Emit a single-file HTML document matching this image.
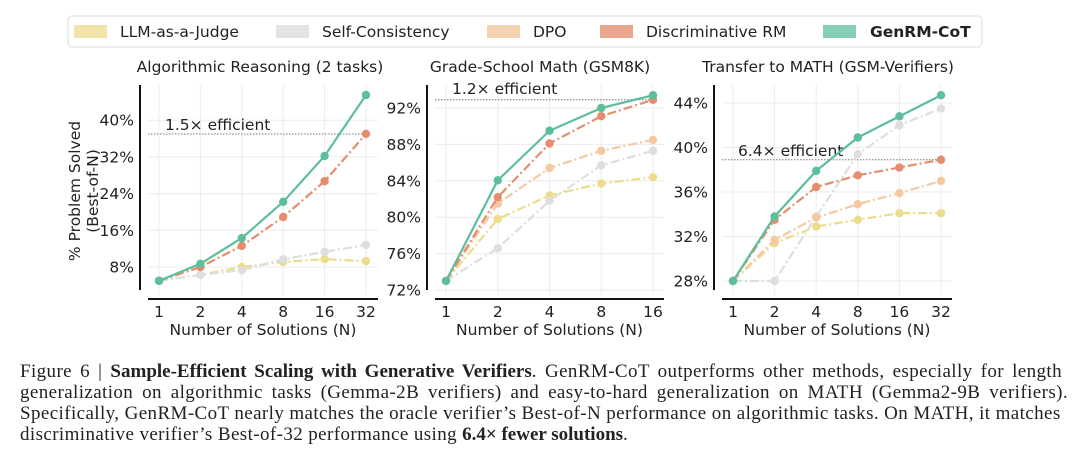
<!DOCTYPE html>
<html><head><meta charset="utf-8"><style>
body{margin:0;background:#fff;width:1080px;height:460px;overflow:hidden}
svg text{font-family:"DejaVu Sans","Liberation Sans",sans-serif;fill:#222}
.cap{position:absolute;left:20px;top:361px;width:1060px;font-family:"Liberation Serif",serif;font-size:19px;letter-spacing:0.4px;line-height:21px;color:#222;margin:0}
.cap div{white-space:nowrap;overflow:hidden}
.cap .j{text-align:justify;text-align-last:justify}
.cap b{letter-spacing:0px}
</style></head><body>
<svg id="chart" width="1080" height="350" style="position:absolute;left:0;top:0">
<g id="legend">
<rect x="68" y="16" width="914" height="31" rx="4" fill="#fff" stroke="#ddd"/>
</g>
<g id="plots"></g>
</svg>
<div class="cap">
<div class="j" style="width:1042px">Figure 6 | <b>Sample-Efficient Scaling with Generative Verifiers</b>. GenRM-CoT outperforms other methods, especially for length</div>
<div class="j" style="width:1048px">generalization on algorithmic tasks (Gemma-2B verifiers) and easy-to-hard generalization on MATH (Gemma2-9B verifiers).</div>
<div class="j" style="width:1040px">Specifically, GenRM-CoT nearly matches the oracle verifier’s Best-of-N performance on algorithmic tasks. On MATH, it matches</div>
<div>discriminative verifier’s Best-of-32 performance using <b>6.4× fewer solutions</b>.</div>
</div>
<script>
const seriesNames=["LLM-as-a-Judge","Self-Consistency","DPO","Discriminative RM","GenRM-CoT"];
const seriesColors=["#ecdc8c","#dedede","#f5c9a0","#e58d6e","#5cbf9a"];
const legendColors=["#f0e4a8","#e4e4e4","#f5d2b0","#eba78e","#86cfb4"];
const xLabels1=["1","2","4","8","16","32"];
const xLabels2=["1","2","4","8","16"];
const algo_llm=[5,6.3,8,9.1,9.7,9.3];
const algo_sc=[5,6.3,7.3,9.7,11.3,12.8];
const algo_drm=[5,8,12.6,18.9,26.7,37];
const algo_gen=[5,8.7,14.3,22.2,32.2,45.5];
const gsm_llm=[73,79.8,82.4,83.7,84.4];
const gsm_sc=[73,76.6,81.8,85.7,87.3];
const gsm_dpo=[73,81.5,85.4,87.3,88.5];
const gsm_drm=[73,82.2,88.1,91.1,92.9];
const gsm_gen=[73,84.05,89.5,92,93.4];
const math_llm=[28,31.4,32.9,33.5,34.1,34.1];
const math_sc=[28,28,33.8,39.4,42,43.5];
const math_dpo=[28,31.7,33.7,34.9,35.9,37];
const math_drm=[28,33.5,36.45,37.5,38.2,38.9];
const math_gen=[28,33.8,37.9,40.9,42.8,44.7];
const yTicks1=[8,16,24,32,40];
const yTicks2=[72,76,80,84,88,92];
const yTicks3=[28,32,36,40,44];
const NS="http://www.w3.org/2000/svg";
function mk(tag,attrs,parent){const e=document.createElementNS(NS,tag);for(const k in attrs)e.setAttribute(k,attrs[k]);parent.appendChild(e);return e;}
const plots=document.getElementById('plots');
const legend=document.getElementById('legend');
const legX=[74,276,487,600,823];
const legTX=[120,322,533,646,870];
seriesNames.forEach((n,i)=>{
 const r=mk('rect',{x:legX[i],y:25,width:33,height:13,fill:legendColors[i]},legend);
 
 
 const t=mk('text',{x:legTX[i],y:37,'font-size':15.5,'font-weight':i==4?'bold':'normal'},legend);
 t.textContent=n;
 
 
});
const panels=[
 {title:"Algorithmic Reasoning (2 tasks)",tx:260,x0:159,x1:366,axL:140,xs:148,xe:378,y0:267,yv0:8,ppu:36.7/8,yTicks:yTicks1,xl:xLabels1,
  series:[[algo_llm,0],[algo_sc,1],[algo_drm,3],[algo_gen,4]],eff:37,effTxt:"1.5× efficient",effX:165,effY:130,effStart:148},
 {title:"Grade-School Math (GSM8K)",tx:540,x0:446,x1:653,axL:427,xs:435,xe:664,y0:290,yv0:72,ppu:36.4/4,yTicks:yTicks2,xl:xLabels2,
  series:[[gsm_llm,0],[gsm_sc,1],[gsm_dpo,2],[gsm_drm,3],[gsm_gen,4]],eff:92.9,effTxt:"1.2× efficient",effX:452,effY:94,effStart:435},
 {title:"Transfer to MATH (GSM-Verifiers)",tx:828,x0:733,x1:941,axL:714,xs:722,xe:952,y0:281,yv0:28,ppu:44.5/4,yTicks:yTicks3,xl:xLabels1,
  series:[[math_llm,0],[math_sc,1],[math_dpo,2],[math_drm,3],[math_gen,4]],eff:38.9,effTxt:"6.4× efficient",effX:738,effY:156,effStart:722}
];
panels.forEach((p,pi)=>{
 const g=mk('g',{},plots);
 
 
 const n=p.xl.length;
 const X=i=>p.x0+(p.x1-p.x0)*i/(n-1);
 const Y=v=>p.y0-(v-p.yv0)*p.ppu;
 const tt=mk('text',{x:p.tx,y:72,'font-size':15.5,'text-anchor':'middle'},g);tt.textContent=p.title;
 
 
 p.yTicks.forEach(v=>{
  mk('line',{x1:p.xs,x2:p.xe,y1:Y(v),y2:Y(v),stroke:'#ececec','stroke-width':1},g);
  const t=mk('text',{x:p.axL-6,y:Y(v)+5.5,'font-size':15.5,'text-anchor':'end'},g);t.textContent=v+'%';
  
  
 });
 p.xl.forEach((l,i)=>{
  mk('line',{x1:X(i),x2:X(i),y1:85,y2:295,stroke:'#ececec','stroke-width':1},g);
  const t=mk('text',{x:X(i),y:317,'font-size':15.5,'text-anchor':'middle'},g);t.textContent=l;
  
  
 });
 mk('line',{x1:p.axL,x2:p.axL,y1:85,y2:290,stroke:'#111','stroke-width':2},g);
 mk('line',{x1:p.xs,x2:p.xe,y1:299,y2:299,stroke:'#111','stroke-width':2},g);
 const xt=mk('text',{x:(p.xs+p.xe)/2,y:335,'font-size':15.5,'text-anchor':'middle'},g);xt.textContent="Number of Solutions (N)";
 
 
 mk('line',{x1:p.effStart,x2:X(n-1),y1:Y(p.eff),y2:Y(p.eff),stroke:'#777','stroke-width':1,'stroke-dasharray':'1.5,1.5'},g);
 const et=mk('text',{x:p.effX,y:p.effY,'font-size':15.5},g);et.textContent=p.effTxt;
 
 
 p.series.forEach(([vals,ci])=>{
  const pts=vals.map((v,i)=>X(i)+','+Y(v)).join(' ');
  const pl=mk('polyline',{points:pts,fill:'none',stroke:seriesColors[ci],'stroke-width':2.2,'stroke-dasharray':ci==4?'none':'9,3,2,3'},g);
  
  
  vals.forEach((v,i)=>{
   const c=mk('circle',{cx:X(i),cy:Y(v),r:4.2,fill:seriesColors[ci]},g);
   
   
  });
 });
});
const yl=mk('text',{transform:'translate(80,191) rotate(-90)','font-size':15.5,'text-anchor':'middle'},plots);


const ts1=mk('tspan',{x:0,dy:0},yl);ts1.textContent="% Problem Solved";
const ts2=mk('tspan',{x:0,dy:18},yl);ts2.textContent="(Best-of-N)";
</script>
</body></html>
